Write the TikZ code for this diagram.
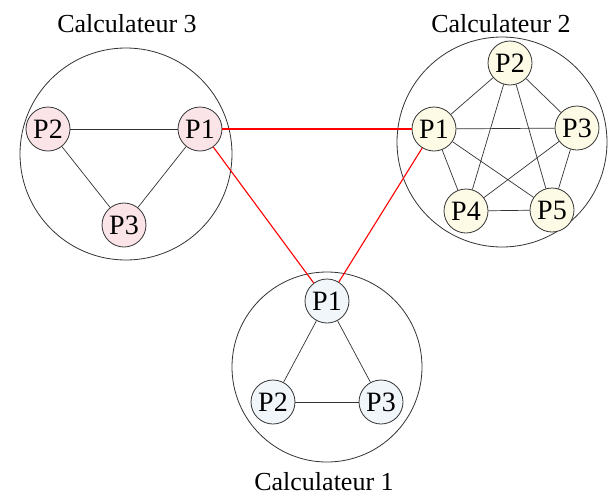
\documentclass[tikz,border=0pt]{standalone}
\usepackage{fontspec}
\setmainfont{Liberation Serif}
\definecolor{pinkfill}{HTML}{FBE4E8}
\definecolor{yelfill}{HTML}{FDFBE6}
\definecolor{bluefill}{HTML}{F1F6FB}
\definecolor{linegray}{HTML}{333333}
\begin{document}
\begin{tikzpicture}[x=1pt,y=-1pt,
  proc/.style={circle,draw=linegray,line width=0.8pt,minimum size=44pt,inner sep=0pt,font=\fontsize{28}{32}\selectfont},
  machine/.style={circle,draw=linegray,line width=0.8pt,inner sep=0pt},
  title/.style={font=\fontsize{26}{30}\selectfont,inner sep=0pt},
  link/.style={draw=linegray,line width=0.7pt},
  net/.style={draw=red,line width=1.1pt}]
\useasboundingbox (0,0) rectangle (608,496);
% machines
\node[machine,minimum size=212pt] (m3) at (126,154) {};
\node[machine,minimum size=210pt] (m2) at (502,142) {};
\node[machine,minimum size=190pt] (m1) at (327,367) {};
\node[title,anchor=base] (t3) at (127,32) {Calculateur 3};
\node[title,anchor=base] (t2) at (501,32) {Calculateur 2};
\node[title,anchor=base] (t1) at (324,490) {Calculateur 1};
% Calculateur 3
\node[proc,fill=pinkfill] (a1) at (200,129) {P1};
\node[proc,fill=pinkfill] (a2) at (48,129) {P2};
\node[proc,fill=pinkfill] (a3) at (124,225) {P3};
% Calculateur 2
\node[proc,fill=yelfill] (b1) at (434,129) {P1};
\node[proc,fill=yelfill] (b2) at (510,63) {P2};
\node[proc,fill=yelfill] (b3) at (577,128) {P3};
\node[proc,fill=yelfill] (b4) at (466,211) {P4};
\node[proc,fill=yelfill] (b5) at (552,210) {P5};
% Calculateur 1
\node[proc,fill=bluefill] (c1) at (327,301) {P1};
\node[proc,fill=bluefill] (c2) at (273,402) {P2};
\node[proc,fill=bluefill] (c3) at (381,402) {P3};
% internal links
\draw[link] (a2) -- (a1);
\draw[link] (a2) -- (a3);
\draw[link] (a1) -- (a3);
\draw[link] (b1) -- (b2);
\draw[link] (b1) -- (b3);
\draw[link] (b1) -- (b4);
\draw[link] (b1) -- (b5);
\draw[link] (b2) -- (b3);
\draw[link] (b2) -- (b4);
\draw[link] (b2) -- (b5);
\draw[link] (b3) -- (b4);
\draw[link] (b3) -- (b5);
\draw[link] (b4) -- (b5);
\draw[link] (c1) -- (c2);
\draw[link] (c1) -- (c3);
\draw[link] (c2) -- (c3);
% network links
\draw[net] (a1) -- (b1);
\draw[net] (a1) -- (c1);
\draw[net] (b1) -- (c1);
\end{tikzpicture}
\end{document}
